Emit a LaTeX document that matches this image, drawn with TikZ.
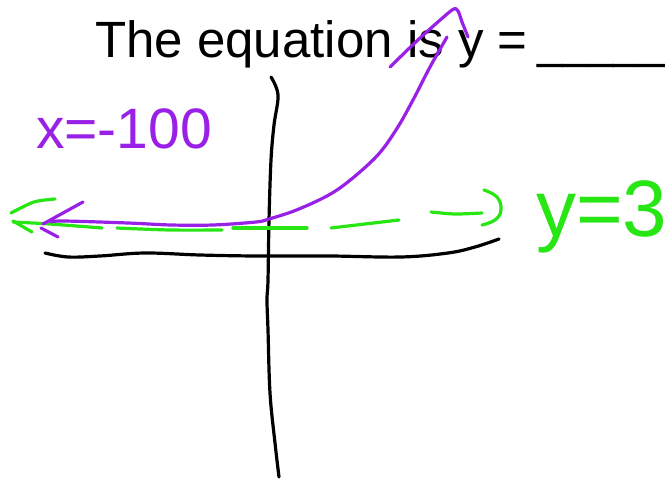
\documentclass[tikz,border=0pt]{standalone}
\usepackage{fontspec}
\setmainfont{Liberation Sans}
\definecolor{pen purple}{RGB}{153,32,230}
\definecolor{pen green}{RGB}{40,230,20}
\tikzset{
  ink/.style={line width=3.2pt, line cap=round, line join=round},
  axisink/.style={ink, black},
  purpleink/.style={ink, pen purple},
  greenink/.style={ink, pen green},
  label/.style={inner sep=0pt, anchor=base west},
}
\begin{document}
\begin{tikzpicture}[x=1pt,y=-1pt]
\useasboundingbox[fill=white] (0,0) rectangle (669,479);

% title
\node[label] (title) at (95,57) {\fontsize{51}{60}\selectfont The equation is y =};
\node[label, xscale=0.9] (blank) at (537,57) {\fontsize{51}{60}\selectfont \_\_\_\_\_};

% handwritten labels
\node[label, text=pen purple] (xlab) at (36,148) {\fontsize{57}{60}\selectfont x=-100};
\node[label, text=pen green] (ylab) at (536,236) {\fontsize{80}{90}\selectfont y=3};

% vertical axis
\draw[axisink] plot[smooth, tension=0.6] coordinates {(271,77) (278,95) (274,125) (271,160) (269,220) (268,280) (267,300) (268,330) (270,393) (275,443) (279,477)};

% horizontal axis
\draw[axisink] plot[smooth, tension=0.6] coordinates {(45,253) (68,257) (100,256) (145,253) (200,255) (256,256) (330,256) (401,257) (448,253) (475,247) (499,239)};

% green dashed line y=3
\draw[greenink] plot[smooth] coordinates {(13,222) (50,224) (102,228)};
\draw[greenink] plot[smooth] coordinates {(117,228) (170,230) (222,230)};
\draw[greenink] (233,228) -- (307,228);
\draw[greenink] plot[smooth] coordinates {(331,228) (365,224) (399,220)};
\draw[greenink] plot[smooth] coordinates {(431,212) (455,214) (482,213)};
\draw[greenink] plot[smooth, tension=0.7] coordinates {(484,190) (497,197) (501,210) (495,220) (482,225)};
% green left arrowhead
\draw[greenink] plot[smooth, tension=0.5] coordinates {(55,199) (34,202) (11,213)};
\draw[greenink] (13,221) -- (32,232);

% purple curve
\draw[purpleink] plot[smooth, tension=0.55] coordinates {(51,222) (64,221) (128,223) (171,225) (213,225) (256,222) (269,219) (299,209) (337,190) (375,158) (396,130) (413,100) (430,67) (447,37)};
\draw[purpleink] plot[smooth, tension=0.4] coordinates {(390,67) (420,38) (452,10) (458,11) (462,22) (468,37)};
% purple arrowhead
\draw[purpleink] (83,202) -- (43,224);
\draw[purpleink] (41,228) -- (58,237);
\end{tikzpicture}
\end{document}
